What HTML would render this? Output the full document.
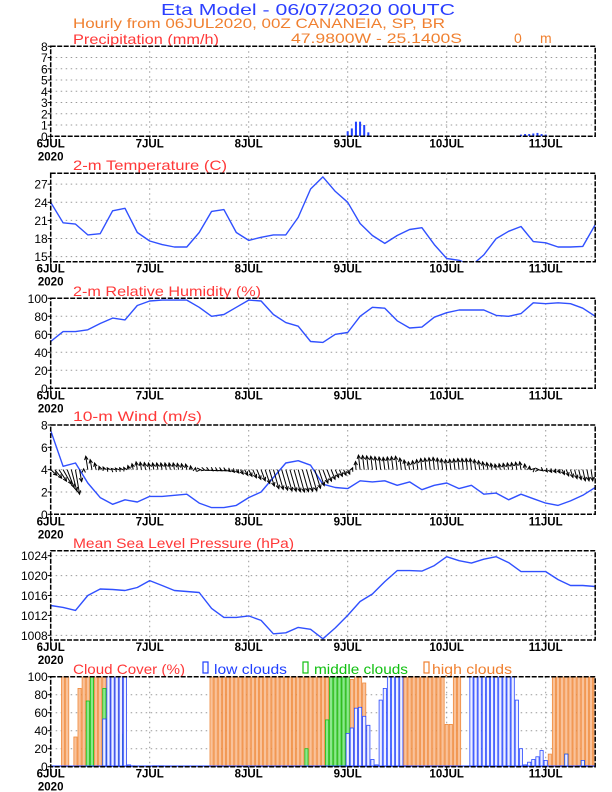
<!DOCTYPE html>
<html><head><meta charset="utf-8"><style>
html,body{margin:0;padding:0;background:#fff;}
svg{display:block;font-family:"Liberation Sans",sans-serif;}
</style></head><body>
<svg id="chart" width="612" height="792" viewBox="0 0 612 792" xmlns="http://www.w3.org/2000/svg">
<text x="161" y="15" font-size="16" fill="#2c40ff" textLength="294" lengthAdjust="spacingAndGlyphs">Eta Model - 06/07/2020 00UTC</text>
<text x="73" y="28" font-size="14" fill="#f08030" textLength="372" lengthAdjust="spacingAndGlyphs">Hourly from 06JUL2020, 00Z  CANANEIA, SP, BR</text>
<text x="73" y="44" font-size="14" fill="#ff3838" textLength="146" lengthAdjust="spacingAndGlyphs">Precipitation (mm/h)</text>
<text x="291" y="43" font-size="14" fill="#f08030" textLength="171" lengthAdjust="spacingAndGlyphs">47.9800W - 25.1400S</text>
<text x="514" y="43" font-size="14" fill="#f08030">0</text>
<text x="540" y="43" font-size="14" fill="#f08030">m</text>
<text x="73" y="170" font-size="14" fill="#ff3838" textLength="154" lengthAdjust="spacingAndGlyphs">2-m Temperature (C)</text>
<text x="73" y="296" font-size="14" fill="#ff3838" textLength="188" lengthAdjust="spacingAndGlyphs">2-m Relative Humidity (%)</text>
<text x="73" y="421" font-size="14" fill="#ff3838" textLength="129" lengthAdjust="spacingAndGlyphs">10-m Wind (m/s)</text>
<text x="73" y="548" font-size="14" fill="#ff3838" textLength="221" lengthAdjust="spacingAndGlyphs">Mean Sea Level Pressure (hPa)</text>
<text x="73" y="674" font-size="14" fill="#ff3838" textLength="112" lengthAdjust="spacingAndGlyphs">Cloud Cover (%)</text>
<rect x="203" y="662" width="5" height="11" fill="none" stroke="#2040ff" stroke-width="1.2"/>
<text x="214" y="674" font-size="14" fill="#2040ff" textLength="73" lengthAdjust="spacingAndGlyphs">low clouds</text>
<rect x="303" y="662" width="5" height="11" fill="none" stroke="#10c010" stroke-width="1.2"/>
<text x="314" y="674" font-size="14" fill="#10c010" textLength="94" lengthAdjust="spacingAndGlyphs">middle clouds</text>
<rect x="424" y="662" width="5" height="11" fill="none" stroke="#f08030" stroke-width="1.2"/>
<text x="432" y="674" font-size="14" fill="#f08030" textLength="80" lengthAdjust="spacingAndGlyphs">high clouds</text>
</svg>
<script>
// ---------- data ----------
const dayLabels = ["6JUL","7JUL","8JUL","9JUL","10JUL","11JUL"];
const precipHours = [72,73,74,75,76,77,113,114,115,116,117,118,119,120];
const precipValues = [0.45,0.7,1.3,1.3,1.0,0.35,0.05,0.15,0.2,0.2,0.25,0.3,0.2,0.15];
// 3-hourly series (h = 0,3,...,132)
const tempValues = [24,20.6,20.4,18.6,18.8,22.6,23.0,19.0,17.6,17.0,16.6,16.6,19.0,22.5,22.8,19.0,17.7,18.2,18.6,18.6,21.5,26.2,28.2,25.8,24.0,20.5,18.5,17.2,18.5,19.5,19.8,17.0,14.7,14.4,13.5,15.3,18.0,19.2,20.0,17.5,17.3,16.6,16.6,16.7,20.3];
const rhValues = [52,63,63,65,72,78,76,92,97,98,98,98,90,80,82,90,98,97,82,73,69,52,51,60,62,80,90,89,75,67,68,79,84,87,87,87,81,80,83,95,94,95,94,89,80];
const windSpeed = [7.5,4.3,4.6,2.8,1.5,0.9,1.3,1.1,1.6,1.6,1.7,1.8,1.0,0.6,0.6,0.8,1.5,2.0,3.3,4.6,4.8,4.4,2.7,2.4,2.3,3.0,2.9,3.0,2.6,2.9,2.2,2.6,2.8,2.3,2.6,1.8,1.9,1.3,1.8,1.4,1.0,0.8,1.2,1.7,2.4];
const windU = [1.5,2,1,-0.5,-0.3,-0.3,-0.3,-0.3,-0.3,-0.3,-0.3,-0.3,0.3,0.4,0.5,0.6,0.8,1,1.3,1.5,1.5,1.5,1.2,0.8,0.5,-0.4,-0.4,-0.4,-0.4,-0.3,-0.3,-0.3,-0.3,-0.3,-0.3,-0.3,-0.3,-0.3,-0.3,0.3,0.4,0.5,0.6,0.6,0.3];
const windV = [-0.5,-1.3,-2.2,1.2,0.3,0.1,0.2,0.7,0.6,0.6,0.6,0.5,0,-0.1,-0.1,-0.3,-0.6,-1.0,-1.7,-1.9,-2.0,-1.9,-1.2,-0.7,-0.4,1.3,1.2,1.1,1.2,0.7,1.0,1.1,0.9,1.0,1.0,0.7,0.5,0.6,0.7,0.1,-0.2,-0.3,-0.7,-1.0,-1.0];
const mslpValues = [1014,1013.6,1013,1016,1017.3,1017.2,1017,1017.6,1019,1018,1017,1016.8,1016.6,1013.4,1011.6,1011.6,1011.9,1011,1008.3,1008.5,1009.6,1009.2,1007.3,1009.5,1012,1014.8,1016.3,1018.8,1021,1021,1020.9,1022,1023.8,1023,1022.5,1023.3,1023.8,1022.6,1020.8,1020.8,1020.8,1019.2,1018,1018,1017.8];
// hourly cloud cover (h = 0..132)
const cloudHigh = [0,0,0,100,100,0,33,87,100,100,100,100,
100,100,100,100,100,100,100,0,0,0,0,0,
0,0,0,0,0,0,0,0,0,0,0,0,
0,0,0,100,100,100,100,100,100,100,100,100,
100,100,100,100,100,100,100,100,100,100,100,100,
100,100,100,100,100,100,100,100,100,100,100,100,
100,97,100,100,93,0,0,0,0,0,0,14,
0,100,100,100,100,100,100,100,100,100,100,100,
47,47,100,100,0,0,0,0,0,0,0,0,
0,0,0,0,0,0,0,0,0,0,0,0,
0,14,100,100,100,100,100,100,100,100,100,100,
100];
const cloudMid = [0,0,0,0,0,0,0,0,0,73,100,0,
0,87,0,0,0,36,0,0,0,0,0,0,
0,0,0,0,0,0,0,0,0,0,0,0,
0,0,0,0,0,0,0,0,0,0,0,0,
0,0,0,0,0,0,0,0,0,0,0,0,
0,0,20,0,0,0,0,52,100,100,100,100,
100,0,0,0,0,0,0,0,0,0,0,0,
0,0,0,0,0,0,0,0,0,0,0,0,
0,0,0,0,0,0,0,0,0,0,0,0,
0,0,0,0,0,0,0,0,0,0,0,0,
0,0,0,0,0,14,0,0,0,7,0,0,
0];
const cloudLow = [0,0,0,0,0,0,0,0,0,0,0,0,
0,53,100,100,100,100,100,2,1,0,0,0,
0,1,1,1,0,0,0,0,0,0,0,0,
0,0,0,0,0,0,0,0,0,0,0,0,
0,0,0,0,0,0,0,0,0,0,0,0,
0,0,0,0,0,0,0,0,0,0,0,0,
37,43,65,66,56,46,8,2,74,87,100,100,
100,100,1,0,0,0,0,0,0,0,0,0,
0,0,0,0,0,0,100,100,100,100,100,100,
100,100,100,100,100,74,20,2,5,8,11,18,
7,0,0,0,1,14,0,0,1,7,1,0,
0];
const precipTicks = [0,1,2,3,4,5,6,7,8];
const tempTicks = [15,18,21,24,27];
const pctTicks = [0,20,40,60,80,100];
const windTicks = [0,2,4,6,8];
const mslpTicks = [1008,1012,1016,1020,1024];

// ---------- layout ----------
const NS = "http://www.w3.org/2000/svg";
const svg = document.getElementById("chart");
const X0 = 50.7, PXH = 4.125, XR = X0 + 132 * PXH;
function xOf(h){ return X0 + h * PXH; }
function mk(tag, attrs, parent){
  const e = document.createElementNS(NS, tag);
  for (const k in attrs) e.setAttribute(k, attrs[k]);
  (parent || svg).appendChild(e);
  return e;
}
function makeY(top, bottom, min, max){ return v => bottom - (v - min) / (max - min) * (bottom - top); }

function panel(name, top, bottom, min, max, ticks){
  const y = makeY(top, bottom, min, max);
  const g = mk("g", {});
  
  
  const grid = mk("g", {stroke:"#9a9a9a","stroke-width":"1","stroke-dasharray":"1.5,3.5"}, g);
  
  
  ticks.forEach(t => {
    if (y(t) > top + 1 && y(t) < bottom - 1) mk("line",{x1:X0,x2:XR,y1:y(t),y2:y(t)},grid);
  });
  for (let d = 1; d < dayLabels.length; d++) mk("line",{x1:xOf(d*24),x2:xOf(d*24),y1:top,y2:bottom},grid);
  const yl = mk("g",{"font-size":"12","text-anchor":"end",fill:"#000"},g);
  
  
  ticks.forEach(t => {
    const tx = mk("text",{x:X0-3,y:y(t)+4.5},yl);
    tx.textContent = t;
    mk("line",{x1:X0-3,x2:X0,y1:y(t),y2:y(t),stroke:"#000","stroke-width":"1"},g);
  });
  const xl = mk("g",{"font-size":"11.5","font-weight":"bold","text-anchor":"middle",fill:"#000"},g);
  
  
  dayLabels.forEach((d,i) => {
    const tx = mk("text",{x:xOf(i*24),y:bottom+11,"font-weight":"bold"},xl);
    tx.textContent = d;
    mk("line",{x1:xOf(i*24),x2:xOf(i*24),y1:bottom,y2:bottom+3,stroke:"#000"},g);
  });
  const yr = mk("text",{x:X0,y:bottom+24,"text-anchor":"middle","font-size":"11.5","font-weight":"bold"},xl);
  yr.textContent = "2020";
  const clip = mk("clipPath",{id:"clip-"+name},g);
  mk("rect",{x:X0,y:top,width:XR-X0,height:bottom-top},clip);
  const plot = mk("g",{"clip-path":"url(#clip-"+name+")"},g);
  
  
  return {g, plot, y, top, bottom};
}
function frame(p, name){
  const f = mk("rect",{x:X0,y:p.top,width:XR-X0,height:p.bottom-p.top,fill:"none",stroke:"#000","stroke-width":"1.5","stroke-dasharray":"5,1.5"},p.g);
  
  
}
function line3h(p, vals, name){
  const pts = vals.map((v,i) => xOf(i*3).toFixed(1) + "," + p.y(v).toFixed(1)).join(" ");
  const l = mk("polyline",{points:pts,fill:"none",stroke:"#3050ff","stroke-width":"1.4","stroke-linejoin":"round"},p.plot);
  
  
}

// precipitation
const p1 = panel("precip", 46.3, 136.3, 0, 8, precipTicks);
precipHours.forEach((h,i) => {
  const r = mk("rect",{x:xOf(h)-1,y:p1.y(precipValues[i]),width:2,height:p1.bottom-p1.y(precipValues[i]),fill:"#2040ff"},p1.plot);
  
  
});
frame(p1,"precip");

// temperature
const p2 = panel("temp", 173.3, 261.7, 14.17, 28.8, tempTicks);
line3h(p2, tempValues, "temperature-line");
frame(p2,"temp");

// relative humidity
const p3 = panel("rh", 298.3, 388.3, 0, 100, pctTicks);
line3h(p3, rhValues, "humidity-line");
frame(p3,"rh");

// wind
const p4 = panel("wind", 425, 514.3, 0, 8, windTicks);
line3h(p4, windSpeed, "wind-speed-line");
function drawArrow(x1, y1, x2, y2, main){
  const ag = mk("g",{stroke:"#000","stroke-width":"1",fill:"none"},p4.plot);
  
  
  mk("line",{x1,y1,x2,y2},ag);
  const ang = Math.atan2(y2-y1, x2-x1), L = 4;
  mk("polyline",{points:(x2-L*Math.cos(ang-0.45))+","+(y2-L*Math.sin(ang-0.45))+" "+x2+","+y2+" "+(x2-L*Math.cos(ang+0.45))+","+(y2-L*Math.sin(ang+0.45))},ag);
}
windU.forEach((u,i) => {
  // hourly rendering between 3-hourly samples
  const nu = i + 1 < windU.length ? windU[i+1] : u;
  const nv = i + 1 < windV.length ? windV[i+1] : windV[i];
  const steps = i + 1 < windU.length ? 3 : 1;
  for (let k = 0; k < steps; k++){
    const f = k / 3;
    const uu = u + (nu - u) * f, vv = windV[i] + (nv - windV[i]) * f;
    const x1 = xOf(i*3 + k), y1 = p4.y(4);
    drawArrow(x1, y1, x1 + uu * PXH, p4.y(4 + vv), k === 0);
  }
});
frame(p4,"wind");

// mslp
const p5 = panel("mslp", 550.7, 640, 1007.06, 1025.0, mslpTicks);
line3h(p5, mslpValues, "pressure-line");
frame(p5,"mslp");

// cloud cover
const p6 = panel("cloud", 676.7, 766.7, 0, 100, pctTicks);
function cloudBars(vals, fill, stroke, name){
  vals.forEach((v,h) => {
    if (v <= 0) return;
    const r = mk("rect",{x:xOf(h)-1.6,y:p6.y(v),width:3.2,height:p6.bottom-p6.y(v),fill,stroke,"stroke-width":"0.8"},p6.plot);
    
    
  });
}
cloudBars(cloudHigh, "#f9c29a", "#f08a3c", "high-cloud-bar");
cloudBars(cloudMid, "#8ce88c", "#18c018", "middle-cloud-bar");
cloudBars(cloudLow, "#eef0ff", "#2848ff", "low-cloud-bar");
const base = mk("line",{x1:X0,x2:XR,y1:p6.bottom-0.5,y2:p6.bottom-0.5,stroke:"#2040ff","stroke-width":"1.5"},p6.plot);


frame(p6,"cloud");
</script>
</body></html>
